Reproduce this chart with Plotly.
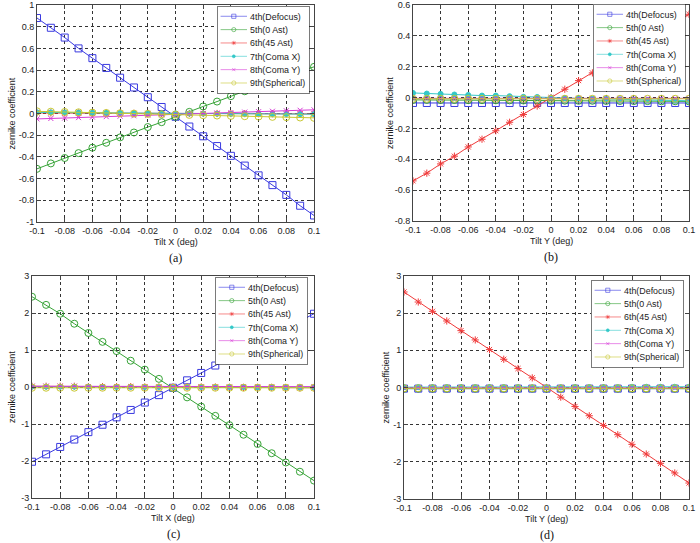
import plotly.graph_objects as go

# ---------------- data ----------------
tilt = [-0.1, -0.09, -0.08, -0.07, -0.06, -0.05, -0.04, -0.03, -0.02, -0.01, 0.0,
        0.01, 0.02, 0.03, 0.04, 0.05, 0.06, 0.07, 0.08, 0.09, 0.1]

names = ["4th(Defocus)", "5th(0 Ast)", "6th(45 Ast)", "7th(Coma X)", "8th(Coma Y)", "9th(Spherical)"]

# (a) Tilt X
defocus_a = [0.88, 0.79, 0.70, 0.60, 0.51, 0.42, 0.33, 0.24, 0.15, 0.06, -0.03,
             -0.12, -0.21, -0.30, -0.39, -0.48, -0.57, -0.66, -0.75, -0.85, -0.94]
ast0_a = [-0.51, -0.46, -0.41, -0.365, -0.315, -0.27, -0.22, -0.175, -0.125, -0.08, -0.03,
          0.015, 0.065, 0.11, 0.16, 0.205, 0.255, 0.30, 0.35, 0.39, 0.43]
ast45_a = [0.005, 0.005, 0.004, 0.004, 0.003, 0.003, 0.002, 0.001, 0.001, 0.0, 0.0,
           0.0, 0.0, 0.0, -0.001, -0.001, -0.002, -0.002, -0.003, -0.003, -0.004]
comax_a = [0.01, 0.01, 0.009, 0.008, 0.007, 0.006, 0.005, 0.004, 0.003, 0.002, 0.001,
           0.0, -0.001, -0.002, -0.003, -0.004, -0.004, -0.005, -0.005, -0.006, -0.006]
comay_a = [-0.05, -0.046, -0.042, -0.038, -0.033, -0.029, -0.025, -0.021, -0.016, -0.012, -0.008,
           -0.004, 0.0, 0.004, 0.009, 0.013, 0.017, 0.021, 0.025, 0.03, 0.034]
sph_a = [0.02, 0.017, 0.014, 0.011, 0.008, 0.005, 0.002, -0.001, -0.004, -0.007, -0.01,
         -0.013, -0.016, -0.019, -0.022, -0.025, -0.028, -0.031, -0.034, -0.037, -0.04]

# (b) Tilt Y
defocus_b = [-0.035, -0.035, -0.035, -0.035, -0.035, -0.035, -0.035, -0.035, -0.035, -0.035, -0.035,
             -0.035, -0.035, -0.035, -0.035, -0.035, -0.035, -0.035, -0.035, -0.035, -0.035]
ast0_b = [-0.015, -0.015, -0.016, -0.016, -0.017, -0.017, -0.018, -0.018, -0.019, -0.019, -0.02,
          -0.02, -0.021, -0.021, -0.022, -0.022, -0.023, -0.023, -0.024, -0.024, -0.025]
ast45_b = [-0.54, -0.49, -0.43, -0.38, -0.32, -0.27, -0.215, -0.16, -0.11, -0.055, 0.0,
           0.054, 0.11, 0.16, 0.215, 0.27, 0.32, 0.38, 0.43, 0.49, 0.54]
comax_b = [0.03, 0.026, 0.024, 0.02, 0.017, 0.013, 0.013, 0.009, 0.005, 0.004, 0.0,
           -0.003, -0.005, -0.007, -0.009, -0.011, -0.013, -0.015, -0.017, -0.019, -0.021]
comay_b = [-0.005, -0.005, -0.005, -0.005, -0.005, -0.005, -0.005, -0.005, -0.005, -0.005, -0.005,
           -0.005, -0.005, -0.005, -0.005, -0.005, -0.005, -0.005, -0.005, -0.005, -0.005]
sph_b = [-0.008, -0.008, -0.008, -0.008, -0.008, -0.008, -0.008, -0.008, -0.008, -0.008, -0.008,
         -0.008, -0.008, -0.008, -0.008, -0.008, -0.008, -0.008, -0.008, -0.008, -0.008]

# (c) Tilt X
defocus_c = [-2.02, -1.82, -1.62, -1.42, -1.22, -1.02, -0.82, -0.62, -0.42, -0.22, -0.02,
             0.18, 0.38, 0.58, 0.78, 0.97, 1.17, 1.37, 1.57, 1.77, 1.98]
ast0_c = [2.44, 2.22, 1.98, 1.71, 1.46, 1.22, 0.97, 0.71, 0.47, 0.22, -0.03,
          -0.28, -0.53, -0.78, -1.03, -1.29, -1.54, -1.79, -2.04, -2.29, -2.53]
ast45_c = [0.02, 0.02, 0.02, 0.02, 0.01, 0.01, 0.01, 0.01, 0.0, 0.0, 0.0,
           0.0, 0.0, 0.0, -0.01, -0.01, -0.01, -0.01, -0.02, -0.02, -0.02]
comax_c = [0.01, 0.01, 0.01, 0.01, 0.01, 0.0, 0.0, 0.0, 0.0, 0.0, 0.0,
           0.0, 0.0, 0.0, 0.0, 0.0, -0.01, -0.01, -0.01, -0.01, -0.01]
comay_c = [0.02, 0.02, 0.02, 0.02, 0.01, 0.01, 0.01, 0.01, 0.01, 0.0, 0.0,
           0.0, 0.0, 0.0, 0.0, 0.01, 0.01, 0.01, 0.01, 0.01, 0.01]
sph_c = [-0.02, -0.02, -0.02, -0.02, -0.02, -0.02, -0.02, -0.02, -0.02, -0.02, -0.02,
         -0.02, -0.02, -0.02, -0.02, -0.02, -0.02, -0.02, -0.02, -0.02, -0.02]

# (d) Tilt Y
defocus_d = [-0.03, -0.03, -0.03, -0.03, -0.03, -0.03, -0.03, -0.03, -0.03, -0.03, -0.03,
             -0.03, -0.03, -0.03, -0.03, -0.03, -0.03, -0.03, -0.03, -0.03, -0.03]
ast0_d = [-0.03, -0.03, -0.03, -0.03, -0.03, -0.03, -0.03, -0.03, -0.03, -0.03, -0.03,
          -0.03, -0.03, -0.03, -0.03, -0.03, -0.03, -0.03, -0.03, -0.03, -0.03]
ast45_d = [2.57, 2.30, 2.05, 1.79, 1.53, 1.28, 1.02, 0.76, 0.51, 0.26, 0.0,
           -0.26, -0.51, -0.76, -1.02, -1.27, -1.53, -1.79, -2.04, -2.30, -2.57]
comax_d = [0.01, 0.01, 0.01, 0.01, 0.01, 0.01, 0.01, 0.01, 0.01, 0.0, 0.0,
           0.0, 0.01, 0.01, 0.01, 0.01, 0.02, 0.02, 0.02, 0.02, 0.02]
comay_d = [-0.01, -0.01, -0.01, -0.01, -0.01, -0.01, -0.01, -0.01, -0.01, -0.01, -0.01,
           -0.01, -0.01, -0.01, -0.01, -0.01, -0.01, -0.01, -0.01, -0.01, -0.01]
sph_d = [-0.02, -0.02, -0.02, -0.02, -0.02, -0.02, -0.02, -0.02, -0.02, -0.02, -0.02,
         -0.02, -0.02, -0.02, -0.02, -0.02, -0.02, -0.02, -0.02, -0.02, -0.02]

x_tickvals = [-0.1, -0.08, -0.06, -0.04, -0.02, 0, 0.02, 0.04, 0.06, 0.08, 0.1]
x_ticktext = ["-0.1", "-0.08", "-0.06", "-0.04", "-0.02", "0", "0.02", "0.04", "0.06", "0.08", "0.1"]
ya_vals = [-1, -0.8, -0.6, -0.4, -0.2, 0, 0.2, 0.4, 0.6, 0.8, 1]
ya_text = ["-1", "-0.8", "-0.6", "-0.4", "-0.2", "0", "0.2", "0.4", "0.6", "0.8", "1"]
yb_vals = [-0.8, -0.6, -0.4, -0.2, 0, 0.2, 0.4, 0.6]
yb_text = ["-0.8", "-0.6", "-0.4", "-0.2", "0", "0.2", "0.4", "0.6"]
yc_vals = [-3, -2, -1, 0, 1, 2, 3]
yc_text = ["-3", "-2", "-1", "0", "1", "2", "3"]

captions = ["(a)", "(b)", "(c)", "(d)"]
xtitles = ["Tilt X (deg)", "Tilt Y (deg)", "Tilt X (deg)", "Tilt Y (deg)"]
ytitle = "zernike coefficient"

# ---------------- style ----------------
W, H = 700, 543
colors = ["#3a3ae0", "#36a336", "#f03a3a", "#33c8c8", "#d63ad6", "#c8c832"]
symbols = ["square-open", "circle-open", "asterisk-open", "circle", "x-thin-open", "circle-open"]
msizes = [7, 7, 6, 5, 5, 7]
FONT = "Liberation Sans, Arial, sans-serif"
LEG_SCALE = 0.6
LEG_FONT = 14.8

# panel boxes in pixels: left, right, top, bottom
boxes = [(37, 314, 5, 222), (413, 689, 5, 221), (32, 314, 276, 498), (404, 689, 276, 499)]
legend_left = [217, 593, 215, 591]
legend_top = [6, 4, 277, 280]
panels = [
    (defocus_a, ast0_a, ast45_a, comax_a, comay_a, sph_a),
    (defocus_b, ast0_b, ast45_b, comax_b, comay_b, sph_b),
    (defocus_c, ast0_c, ast45_c, comax_c, comay_c, sph_c),
    (defocus_d, ast0_d, ast45_d, comax_d, comay_d, sph_d),
]
yranges = [(-1, 1), (-0.8, 0.6), (-3, 3), (-3, 3)]
yticks = [(ya_vals, ya_text), (yb_vals, yb_text), (yc_vals, yc_text), (yc_vals, yc_text)]
ylabel_x = [12, 390, 12, 385]

fig = go.Figure()
layout = dict(width=W, height=H, margin=dict(l=0, r=0, t=0, b=0, autoexpand=False),
              paper_bgcolor="white", plot_bgcolor="white", showlegend=True,
              font=dict(family=FONT, size=9, color="#222"))
annotations = []

for p, series in enumerate(panels):
    k = "" if p == 0 else str(p + 1)
    legname = "legend" + k
    for i, ys in enumerate(series):
        c = colors[i]
        fig.add_trace(go.Scatter(
            x=tilt, y=ys, name=names[i], mode="lines+markers",
            xaxis="x" + k, yaxis="y" + k, legend=legname,
            line=dict(color=c, width=1),
            marker=dict(symbol=symbols[i], size=msizes[i], color=c,
                        line=dict(color=c, width=1)),
        ))
    l, r, t, b = boxes[p]
    dom_x = [l / W, r / W]
    dom_y = [1 - b / H, 1 - t / H]
    axcommon = dict(showline=True, mirror="ticks", linecolor="#444", linewidth=1,
                    ticks="inside", ticklen=4, tickcolor="#444",
                    showgrid=True, gridcolor="#333", griddash="dot", gridwidth=1,
                    zeroline=False, automargin=False,
                    tickfont=dict(size=9, family=FONT, color="#222"))
    layout["xaxis" + k] = dict(domain=dom_x, anchor="y" + k, range=[-0.1, 0.1],
                               tickvals=x_tickvals, ticktext=x_ticktext, **axcommon)
    layout["yaxis" + k] = dict(domain=dom_y, anchor="x" + k, range=list(yranges[p]),
                               tickvals=yticks[p][0], ticktext=yticks[p][1], **axcommon)
    layout[legname] = dict(x=legend_left[p] / W, y=1 - legend_top[p] / H,
                           xanchor="left", yanchor="top",
                           bgcolor="white", bordercolor="#222", borderwidth=1,
                           font=dict(size=LEG_FONT, family=FONT, color="#222"),
                           itemwidth=44, tracegroupgap=0)
    annotations.append(dict(text=xtitles[p], x=(l + r) / 2 / W, y=1 - (b + 20) / H,
                            xref="paper", yref="paper", showarrow=False,
                            xanchor="center", yanchor="middle",
                            font=dict(size=9, family=FONT, color="#222")))
    annotations.append(dict(text=ytitle, x=ylabel_x[p] / W, y=1 - (t + b) / 2 / H,
                            xref="paper", yref="paper", showarrow=False, textangle=-90,
                            xanchor="center", yanchor="middle",
                            font=dict(size=9, family=FONT, color="#222")))
    annotations.append(dict(text=captions[p], x=(l + r) / 2 / W, y=1 - (b + 36) / H,
                            xref="paper", yref="paper", showarrow=False,
                            xanchor="center", yanchor="middle",
                            font=dict(size=12, family="Liberation Serif, Times New Roman, serif",
                                      color="#111")))

layout["annotations"] = annotations
fig.update_layout(**layout)

# shrink the (MATLAB-like, compact) legend boxes about their top-left corner
post = """
var gd = document.getElementById('{plot_id}');
function shrinkLegends() {
  gd.querySelectorAll('.infolayer > g').forEach(function (g) {
    var cls = g.getAttribute('class') || '';
    if (/^legend\\d*$/.test(cls)) {
      var tr = (g.getAttribute('transform') || '').replace(/\\s*scale\\([^)]*\\)/, '');
      g.setAttribute('transform', tr + ' scale(%s)');
    }
  });
}
shrinkLegends();
gd.on('plotly_afterplot', shrinkLegends);
""" % LEG_SCALE
fig.write_html("out.html", post_script=post)
